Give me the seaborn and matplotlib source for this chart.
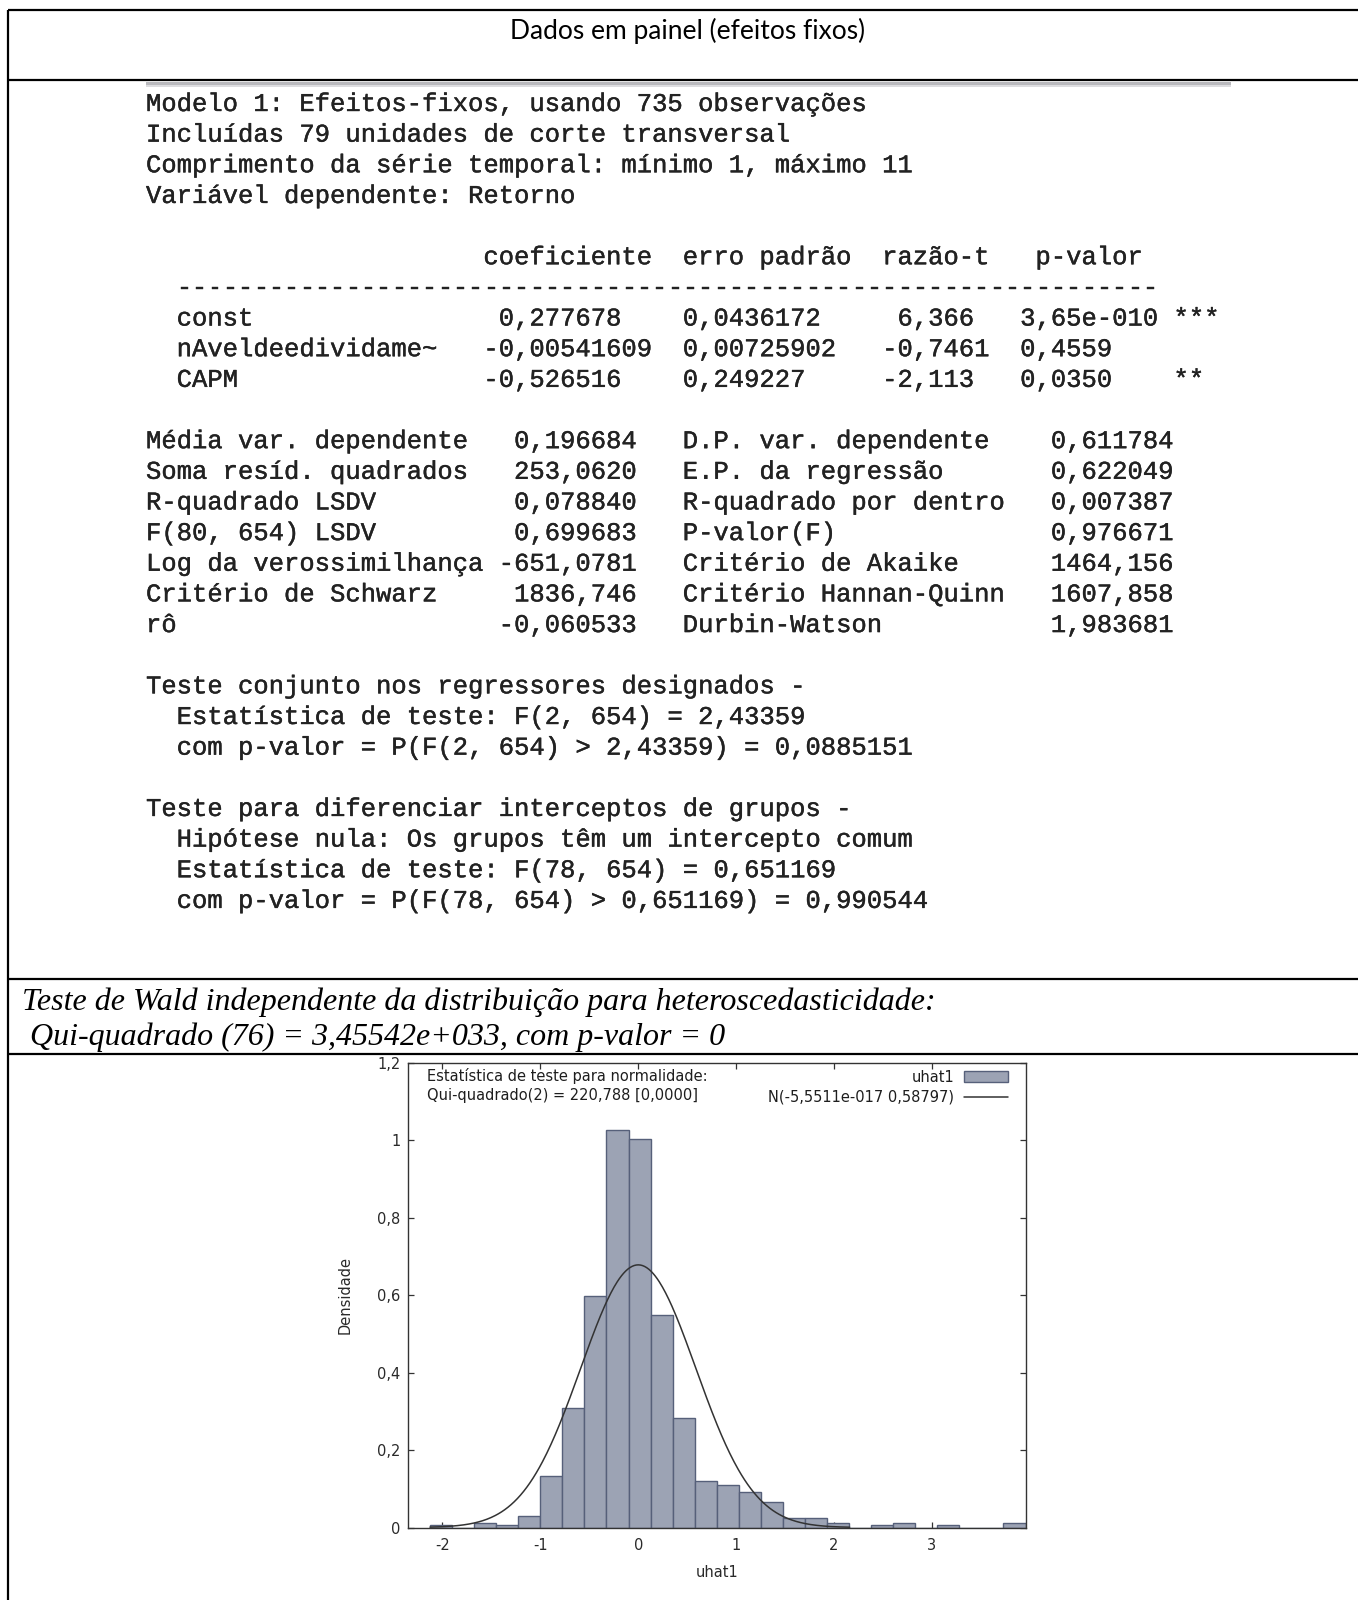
import numpy as np
import pandas as pd
import matplotlib
matplotlib.use("Agg")
import matplotlib.pyplot as plt
import matplotlib.patheffects as pe
import seaborn as sns
from matplotlib.lines import Line2D
from matplotlib.patches import Patch, Rectangle

# ---------------------------------------------------------------------------
# Regression output (panel data, fixed effects)
# ---------------------------------------------------------------------------
title = "Dados em painel (efeitos fixos)"

model_header = [
    "Modelo 1: Efeitos-fixos, usando 735 observações",
    "Incluídas 79 unidades de corte transversal",
    "Comprimento da série temporal: mínimo 1, máximo 11",
    "Variável dependente: Retorno",
]
coef_columns = ["coeficiente", "erro padrão", "razão-t", "p-valor"]
regressors = ["const", "nAveldeedividame~", "CAPM"]
coefficients = ["0,277678", "-0,00541609", "-0,526516"]
std_errors = ["0,0436172", "0,00725902", "0,249227"]
t_ratios = ["6,366", "-0,7461", "-2,113"]
p_values = ["3,65e-010", "0,4559", "0,0350"]
stars = ["***", "", "**"]

stat_labels_left = ["Média var. dependente", "Soma resíd. quadrados",
                    "R-quadrado LSDV", "F(80, 654) LSDV",
                    "Log da verossimilhança", "Critério de Schwarz", "rô"]
stat_values_left = ["0,196684", "253,0620", "0,078840", "0,699683",
                    "-651,0781", "1836,746", "-0,060533"]
stat_labels_right = ["D.P. var. dependente", "E.P. da regressão",
                     "R-quadrado por dentro", "P-valor(F)",
                     "Critério de Akaike", "Critério Hannan-Quinn",
                     "Durbin-Watson"]
stat_values_right = ["0,611784", "0,622049", "0,007387", "0,976671",
                     "1464,156", "1607,858", "1,983681"]

joint_test = [
    "Teste conjunto nos regressores designados -",
    "  Estatística de teste: F(2, 654) = 2,43359",
    "  com p-valor = P(F(2, 654) > 2,43359) = 0,0885151",
]
group_test = [
    "Teste para diferenciar interceptos de grupos -",
    "  Hipótese nula: Os grupos têm um intercepto comum",
    "  Estatística de teste: F(78, 654) = 0,651169",
    "  com p-valor = P(F(78, 654) > 0,651169) = 0,990544",
]

wald_text = [
    "Teste de Wald independente da distribuição para heteroscedasticidade:",
    " Qui-quadrado (76) = 3,45542e+033, com p-valor = 0",
]

# ---------------------------------------------------------------------------
# Residual histogram (uhat1) and its normal fit
# ---------------------------------------------------------------------------
bin_start = -2.127
bin_width = 0.2253
uhat_counts = [1, 0, 2, 1, 5, 22, 51, 99, 170, 166, 91, 47, 20, 18, 15,
               11, 4, 4, 2, 0, 1, 2, 0, 1, 0, 0, 2]
normal_mean = -5.5511e-017
normal_sd = 0.58797
normality_note = ["Estatística de teste para normalidade:",
                  "Qui-quadrado(2) = 220,788 [0,0000]"]
legend_labels = ["uhat1", "N(-5,5511e-017 0,58797)"]
x_ticks = [-2, -1, 0, 1, 2, 3]
y_ticks = [0, 0.2, 0.4, 0.6, 0.8, 1.0, 1.2]


def comma(v):
    s = f"{v:g}"
    return s.replace(".", ",")


def align_comma(s, comma_col, start):
    """Pad s so that its decimal comma lands at column comma_col."""
    idx = s.index(",")
    return " " * (comma_col - start - idx) + s


def build_listing():
    lines = list(model_header)
    lines.append("")
    head = " " * 22 + coef_columns[0] + "  " + coef_columns[1] + "  " \
        + coef_columns[2] + "   " + coef_columns[3]
    lines.append(head)
    lines.append("  " + "-" * 64)
    for name, c, se, t, p, st in zip(regressors, coefficients, std_errors,
                                     t_ratios, p_values, stars):
        row = "  " + name
        row = row.ljust(20)
        row += align_comma(c, 24, len(row))
        row = row.ljust(35) + se
        row = row.ljust(36)
        row += align_comma(t, 50, len(row))
        row = row.ljust(57) + p
        if st:
            row = row.ljust(67) + st
        lines.append(row)
    lines.append("")
    for la, va, lb, vb in zip(stat_labels_left, stat_values_left,
                              stat_labels_right, stat_values_right):
        row = la + " " * max(1, 32 - len(la) - len(va)) + va
        row = row.ljust(35) + lb
        row = row + " " * (67 - len(row) - len(vb)) + vb
        lines.append(row)
    lines.append("")
    lines.extend(joint_test)
    lines.append("")
    lines.extend(group_test)
    return lines


sns.set_theme(style="white")
plt.rcParams["font.family"] = ["DejaVu Sans"]

W, H = 1358, 1600
fig = plt.figure(figsize=(W / 100, H / 100), dpi=100)
fig.patch.set_facecolor("white")

# page layer in pixel coordinates
page = fig.add_axes([0, 0, 1, 1])
page.set_xlim(0, W)
page.set_ylim(H, 0)
page.axis("off")

rule_kw = dict(color="black", lw=1.6, solid_capstyle="butt")
page.plot([7.5, W], [10, 10], **rule_kw)
page.plot([7.5, 7.5], [10, H], **rule_kw)
page.plot([7.5, W], [80, 80], **rule_kw)
page.plot([7.5, W], [979, 979], **rule_kw)
page.plot([7.5, W], [1054, 1054], **rule_kw)
# grey top edge of the embedded listing window
page.add_patch(Rectangle((146, 81.5), 1085, 3, color="#b9b9bd", lw=0))
page.add_patch(Rectangle((146, 84.5), 1085, 2.5, color="#dcdcdf", lw=0))

page.text(688, 31, title, ha="center", va="center", fontsize=19,
          family="Lato", color="black")

listing = build_listing()
mono_fx = [pe.withStroke(linewidth=0.3, foreground="#222222")]
for i, line in enumerate(listing):
    if line:
        page.text(146, 104 + i * 30.65, line, ha="left", va="center",
                  fontsize=18.4, family="Liberation Mono", color="#222222",
                  path_effects=mono_fx)

page.text(22, 1002, wald_text[0], ha="left", va="center", fontsize=23,
          family="Liberation Serif", style="italic", color="black")
page.text(22, 1037, wald_text[1], ha="left", va="center", fontsize=23,
          family="Liberation Serif", style="italic", color="black")

# histogram panel
ax_l, ax_r, ax_t, ax_b = 408, 1025.5, 1063, 1527.5
ax = fig.add_axes([ax_l / W, 1 - ax_b / H, (ax_r - ax_l) / W,
                   (ax_b - ax_t) / H])

n_bins = len(uhat_counts)
edges = bin_start + bin_width * np.arange(n_bins + 1)
centers = edges[:-1] + bin_width / 2
hist_df = pd.DataFrame({"uhat1": centers, "n": uhat_counts})

bar_fill = "#9ca3b4"
bar_edge = "#56607a"
sns.histplot(data=hist_df, x="uhat1", weights="n", bins=n_bins,
             binrange=(float(edges[0]), float(edges[-1])),
             stat="density", color=bar_fill, edgecolor=bar_edge,
             linewidth=1.0, alpha=1.0, ax=ax)

xs = np.linspace(edges[0], 2.16, 400)
pdf = np.exp(-0.5 * ((xs - normal_mean) / normal_sd) ** 2) / (
    normal_sd * np.sqrt(2 * np.pi))
sns.lineplot(x=xs, y=pdf, color="#333333", lw=1.1, ax=ax)

fs = 10.5
ax.set_xlim(edges[0] - bin_width, edges[-1])
ax.set_ylim(0, 1.2)
ax.set_xticks(x_ticks)
ax.set_yticks(y_ticks)
ax.set_xticklabels([comma(v) for v in x_ticks])
ax.set_yticklabels([comma(v) for v in y_ticks])
ax.tick_params(direction="in", length=4.5, width=0.9, color="#333333",
               labelsize=fs, labelcolor="#2a2a2a", top=True, right=True,
               bottom=True, left=True)
ax.tick_params(axis="x", pad=7.5)
ax.tick_params(axis="y", pad=5.5)
for sp in ax.spines.values():
    sp.set_color("#333333")
    sp.set_linewidth(1.0)
ax.grid(False)

ax.set_xlabel("uhat1", fontsize=fs, color="#2a2a2a")
ax.set_ylabel("Densidade", fontsize=fs, color="#2a2a2a")
ax.xaxis.set_label_coords(0.5, -0.08)
ax.yaxis.set_label_coords(-0.09, 0.5)

ax.text(0.03, 0.972, normality_note[0], transform=ax.transAxes,
        ha="left", va="center", fontsize=fs, color="#1e1e1e")
ax.text(0.03, 0.930, normality_note[1], transform=ax.transAxes,
        ha="left", va="center", fontsize=fs, color="#1e1e1e")

handles = [Patch(facecolor=bar_fill, edgecolor=bar_edge, linewidth=1.0),
           Line2D([0], [0], color="#333333", lw=1.1)]
ax.legend(handles, legend_labels, loc="upper right",
          bbox_to_anchor=(0.972, 0.986), frameon=False, markerfirst=False,
          fontsize=fs, handlelength=3.0, handletextpad=0.7,
          labelspacing=0.35, borderpad=0.0, borderaxespad=0.0,
          labelcolor="#1e1e1e")

fig.savefig("out.png", dpi=100, facecolor="white")
